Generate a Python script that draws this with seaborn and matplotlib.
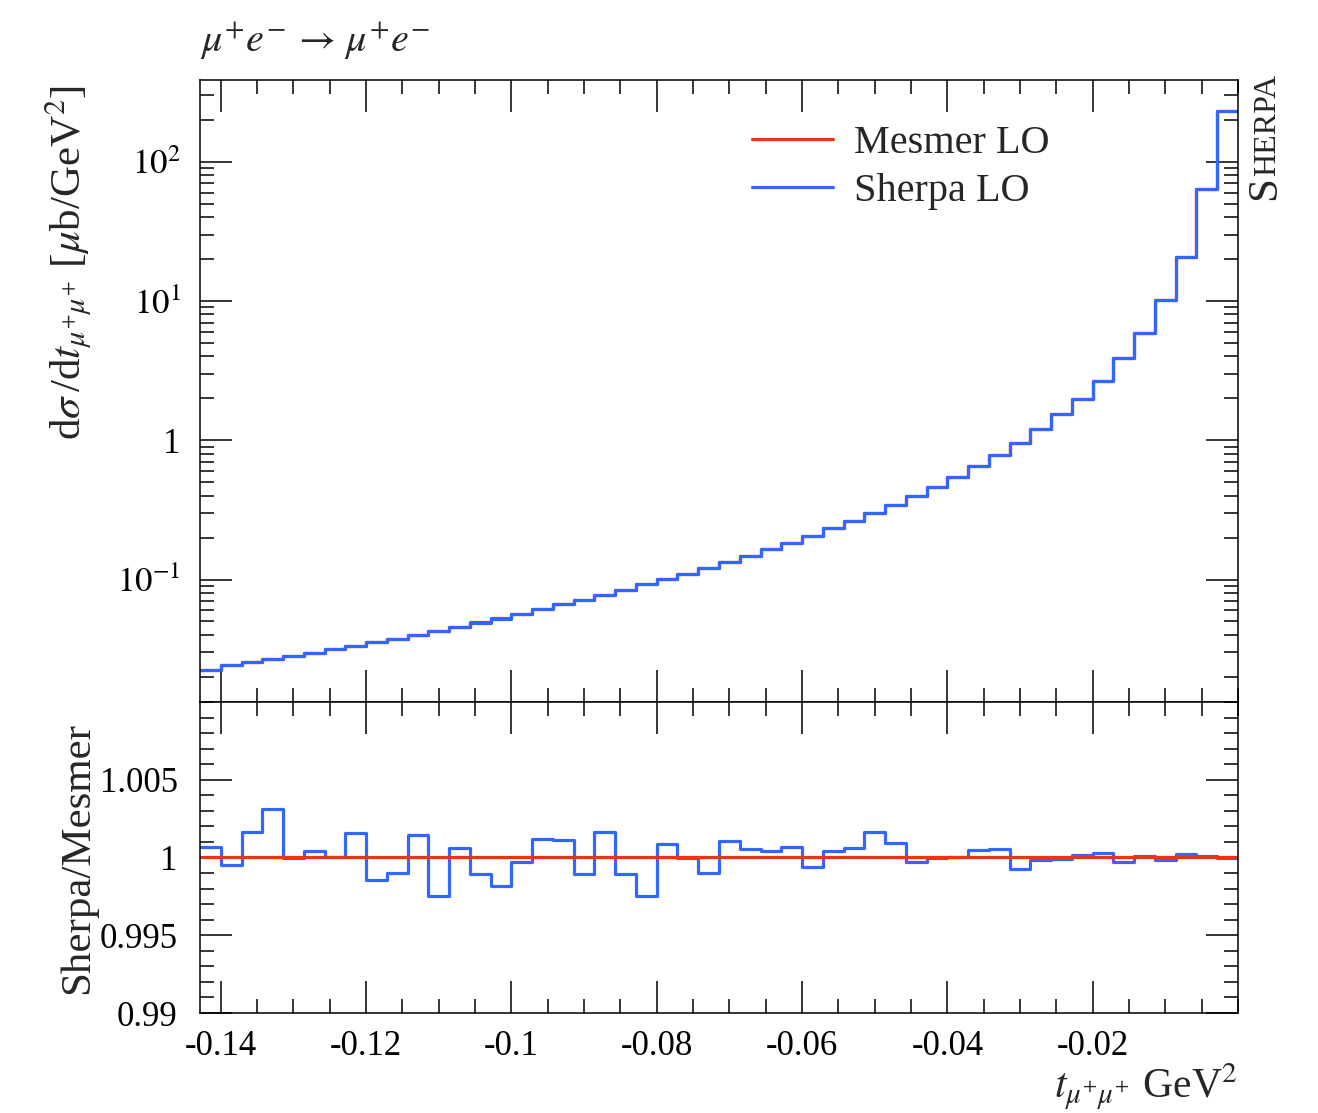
import numpy as np
import pandas as pd
import matplotlib
matplotlib.use("Agg")
import matplotlib.pyplot as plt
import seaborn as sns
from matplotlib.ticker import (FixedLocator, FixedFormatter, MultipleLocator,
                               NullFormatter, LogLocator)
from matplotlib.lines import Line2D

# Binning of the momentum transfer t (GeV^2)
T_MIN, T_MAX, N_BINS = -1.0 / 7.0, 0.0, 50

# Sherpa LO differential cross section per bin [mub/GeV^2]
sherpa_lo = [
    0.02244, 0.02426, 0.02560, 0.02692, 0.02829, 0.02987, 0.03162, 0.03336,
    0.03548, 0.03750, 0.04000, 0.04276, 0.04571, 0.04909, 0.05240, 0.05662,
    0.06121, 0.06650, 0.07142, 0.07709, 0.08414, 0.09247, 0.1005, 0.1103,
    0.1211, 0.1331, 0.1484, 0.1650, 0.1841, 0.2065, 0.2335, 0.2636,
    0.2992, 0.3433, 0.3963, 0.4645, 0.5453, 0.6503, 0.7800, 0.9571,
    1.199, 1.537, 1.989, 2.679, 3.898, 5.919, 10.12, 20.59,
    63.4, 230.2,
]

# Ratio Sherpa / Mesmer per bin
sherpa_over_mesmer = [
    1.00069, 0.99953, 1.00167, 1.00313, 0.99994, 1.00045, 1.00006, 1.00155,
    0.99854, 0.99899, 1.00144, 0.99753, 1.00060, 0.99897, 0.99818, 0.99972,
    1.00122, 1.00114, 0.99893, 1.00167, 0.99893, 0.99751, 1.00090, 0.99994,
    0.99899, 1.00109, 1.00054, 1.00041, 1.00069, 0.99940, 1.00041, 1.00058,
    1.00163, 1.00094, 0.99968, 0.99994, 1.00000, 1.00049, 1.00054, 0.99927,
    0.99983, 0.99989, 1.00015, 1.00026, 0.99968, 1.00009, 0.99983, 1.00021,
    1.00011, 0.99994,
]

x_major = [-0.14, -0.12, -0.10, -0.08, -0.06, -0.04, -0.02]
x_major_labels = ["-0.14", "-0.12", "-0.1", "-0.08", "-0.06", "-0.04", "-0.02"]
y_main_major = [0.1, 1.0, 10.0, 100.0]
y_main_labels = [r"$10^{-1}$", "1", r"$10^{1}$", r"$10^{2}$"]
y_ratio_major = [0.99, 0.995, 1.0, 1.005]
y_ratio_labels = ["0.99", "0.995", "1", "1.005"]

RED = "#EE3311"
BLUE = "#3366FF"

W, H, DPI = 1318, 1113, 100

sns.set_theme(style="white")
plt.rcParams["font.family"] = ["Liberation Serif", "DejaVu Serif"]
plt.rcParams["mathtext.fontset"] = "stix"
plt.rcParams["axes.linewidth"] = 1.1

edges = np.linspace(T_MIN, T_MAX, N_BINS + 1).tolist()
centers = 0.5 * (np.array(edges[:-1]) + np.array(edges[1:]))
sherpa = np.array(sherpa_lo)
ratio = np.array(sherpa_over_mesmer)
mesmer = sherpa / ratio

df = pd.DataFrame({
    "t": centers,
    "sherpa": sherpa,
    "mesmer": mesmer,
    "ratio_sherpa": ratio,
    "ratio_mesmer": mesmer / mesmer,
})


def fx(px):
    return px / W


def fy(py):
    return 1.0 - py / H


fig = plt.figure(figsize=(W / DPI, H / DPI), dpi=DPI)
fig.patch.set_facecolor("white")

ax = fig.add_axes([fx(200), fy(702), fx(1238) - fx(200), fy(80) - fy(702)])
axr = fig.add_axes([fx(200), fy(1013), fx(1238) - fx(200), fy(702) - fy(1013)])

LW = 2.3
# main panel: distributions
sns.histplot(data=df, x="t", weights="mesmer", bins=edges, element="step",
             fill=False, color=RED, linewidth=LW, ax=ax)
sns.histplot(data=df, x="t", weights="sherpa", bins=edges, element="step",
             fill=False, color=BLUE, linewidth=LW, ax=ax)
ax.set_yscale("log")
ax.set_xlim(T_MIN, T_MAX)
ax.set_ylim(0.0132, 386)

# ratio panel
sns.histplot(data=df, x="t", weights="ratio_sherpa", bins=edges, element="step",
             fill=False, color=BLUE, linewidth=LW, ax=axr)
sns.histplot(data=df, x="t", weights="ratio_mesmer", bins=edges, element="step",
             fill=False, color=RED, linewidth=LW, ax=axr)
axr.set_xlim(T_MIN, T_MAX)
axr.set_ylim(0.99, 1.01)

for a in (ax, axr):
    a.set_xlabel("")
    a.set_ylabel("")
    for s in a.spines.values():
        s.set_color("black")
        s.set_linewidth(1.1)
    a.xaxis.set_major_locator(FixedLocator(x_major))
    a.xaxis.set_major_formatter(FixedFormatter(x_major_labels))
    a.xaxis.set_minor_locator(MultipleLocator(0.005))
    a.tick_params(which="both", direction="in", top=True, right=True,
                  bottom=True, left=True, width=1.1, colors="black",
                  labelsize=25)
    a.tick_params(which="major", length=23)
    a.tick_params(which="minor", length=10)

ax.yaxis.set_major_locator(FixedLocator(y_main_major))
ax.yaxis.set_major_formatter(FixedFormatter(y_main_labels))
ax.yaxis.set_minor_locator(LogLocator(base=10, subs=np.arange(2, 10)))
ax.yaxis.set_minor_formatter(NullFormatter())
ax.tick_params(axis="x", labelbottom=False)
ax.tick_params(axis="y", pad=14)

axr.yaxis.set_major_locator(FixedLocator(y_ratio_major))
axr.yaxis.set_major_formatter(FixedFormatter(y_ratio_labels))
axr.yaxis.set_minor_locator(MultipleLocator(0.001))
axr.tick_params(axis="y", pad=16)
axr.tick_params(axis="x", pad=12)

# legend
handles = [Line2D([], [], color=RED, linewidth=LW),
           Line2D([], [], color=BLUE, linewidth=LW)]
ax.legend(handles, ["Mesmer LO", "Sherpa LO"], loc="upper left",
          bbox_to_anchor=(fx(752), fy(125)), bbox_transform=fig.transFigure,
          frameon=False, fontsize=29, handlelength=2.0, handletextpad=0.52,
          labelspacing=0.26, borderpad=0, borderaxespad=0)

# titles and axis labels
fig.text(fx(200), fy(52), r"$\mu^{+}e^{-}\,\rightarrow\,\mu^{+}e^{-}$",
         fontsize=29, ha="left", va="baseline")
fig.text(fx(68), fy(262),
         r"d$\sigma\,$/d$t_{\mu^{+}\mu^{+}}$ [$\mu$b/GeV$^{2}$]",
         fontsize=31, rotation=90, ha="center", va="center")
fig.text(fx(78), fy(858), "Sherpa/Mesmer", fontsize=31, rotation=90,
         ha="center", va="center")
fig.text(fx(1238), fy(1098), r"$t_{\mu^{+}\mu^{+}}$ GeV$^{2}$",
         fontsize=30, ha="right", va="baseline")

# generator tag in small capitals, reading upwards
tag_s = fig.text(fx(1275), fy(200), "S", fontsize=31, rotation=90,
                 rotation_mode="anchor", ha="left", va="baseline")
fig.canvas.draw()
s_len = tag_s.get_window_extent().height
fig.text(fx(1275), fy(200 - s_len), "HERPA", fontsize=23, rotation=90,
         rotation_mode="anchor", ha="left", va="baseline")

fig.savefig("out.png", dpi=DPI, facecolor="white")
